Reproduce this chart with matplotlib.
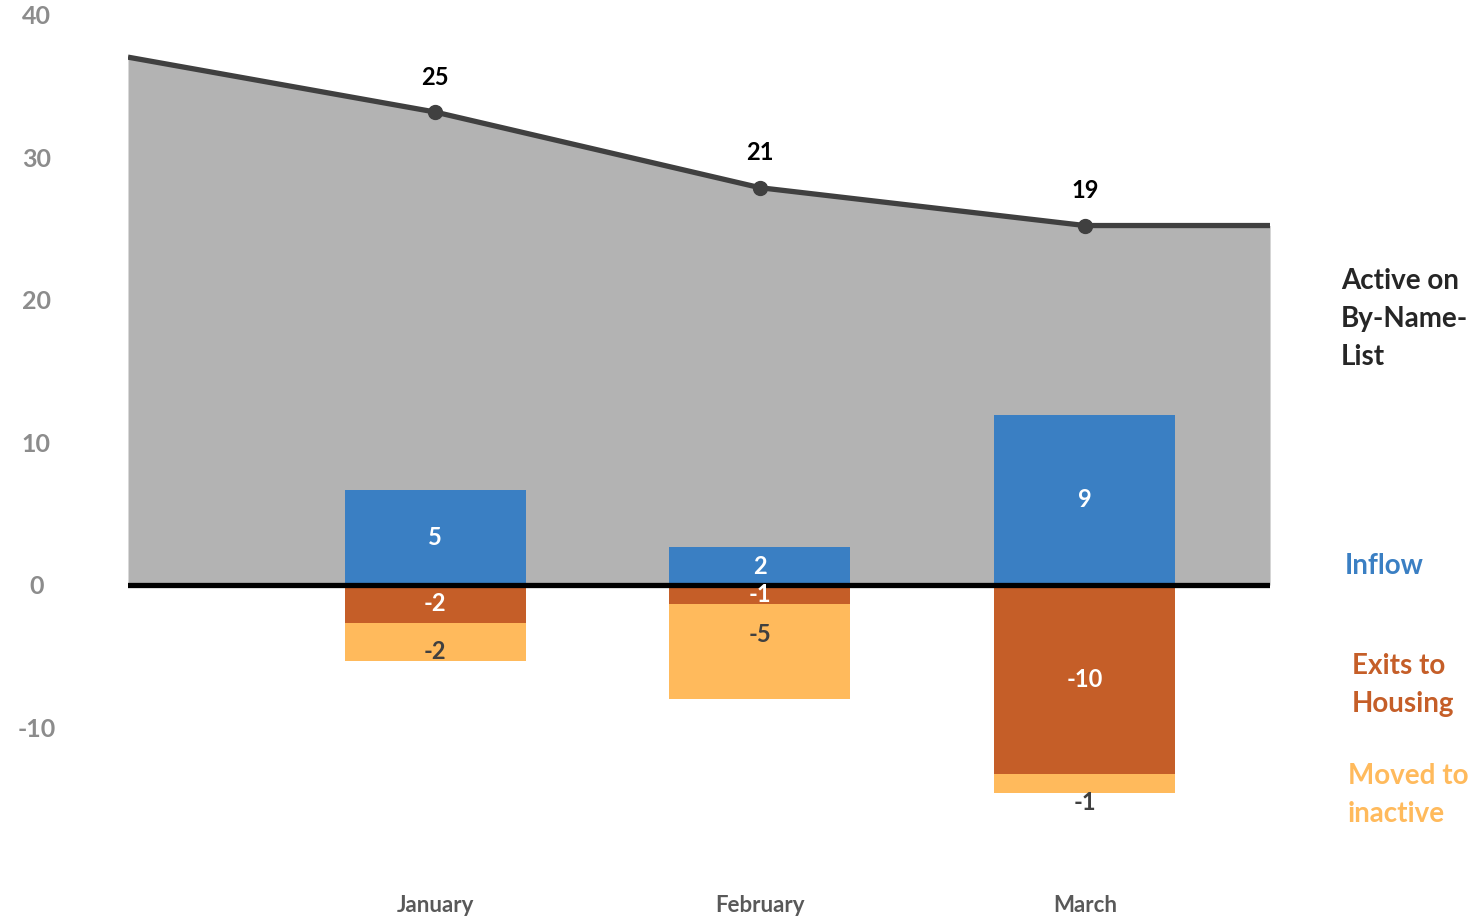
import matplotlib
matplotlib.use("Agg")
import matplotlib.pyplot as plt
import numpy as np

plt.rcParams['font.family'] = ['Lato', 'DejaVu Sans']

months = ["January", "February", "March"]
active = [25, 21, 19]
active_edge_start = 27.9   # trend value at the left edge of the plot
inflow = [5, 2, 9]
exits_housing = [-2, -1, -10]
moved_inactive = [-2, -5, -1]

left_ticks = [40, 30, 20, 10, 0, -10]

BLUE = "#3A7FC3"
ORANGE = "#C55E28"
YELLOW = "#FFBA5C"
GREY_AREA = "#B3B3B3"
LINE = "#404040"

fig = plt.figure(figsize=(14.78, 9.17), dpi=100)
ax = fig.add_axes([0.0866, 0.0513, 0.7727, 0.9324])

x_lo, x_hi = -0.945, 2.57
x = np.arange(len(months))

# grey area + line for active on list
area_x = np.concatenate(([x_lo], x, [x_hi]))
area_y = np.concatenate(([active_edge_start], active, [active[-1]]))
ax.fill_between(area_x, 0, area_y, color=GREY_AREA, lw=0, zorder=1)
ax.plot(area_x, area_y, color=LINE, lw=3.8, zorder=4, solid_capstyle='butt')
ax.plot(x, active, 'o', color=LINE, ms=10, zorder=5)
for xi, v in zip(x, active):
    ax.annotate(str(v), (xi, v), xytext=(0, 25), textcoords='offset points',
                ha='center', va='center', fontsize=17, fontweight='bold', color='black')

# stacked bars
w = 0.557
ax.bar(x, inflow, w, color=BLUE, zorder=2)
ax.bar(x, exits_housing, w, color=ORANGE, zorder=2)
ax.bar(x, moved_inactive, w, bottom=exits_housing, color=YELLOW, zorder=2)

lab = dict(ha='center', va='center', fontsize=17, fontweight='bold', zorder=6)
for xi, v in zip(x, inflow):
    ax.text(xi, v / 2, str(v), color='white', **lab)
for xi, v in zip(x, exits_housing):
    ax.text(xi, v / 2, str(v), color='white', **lab)
# Excel put these labels a bit off-centre
nudge = [-0.5, 0.9, -1.0]
for xi, b, v, n in zip(x, exits_housing, moved_inactive, nudge):
    ax.text(xi, b + v / 2 + n, str(v), color=LINE, **lab)

ax.axhline(0, color='black', lw=3.8, zorder=3)

ax.set_xlim(x_lo, x_hi)
ax.set_ylim(-15.06, 30.13)
ax.set_xticks(x)
ax.set_xticklabels(months, fontsize=16, fontweight='bold', color='#595959')
ax.tick_params(axis='x', length=0, pad=18)
ax.set_yticks([])
for s in ax.spines.values():
    s.set_visible(False)

# left value labels sit on their own scale (primary axis in the original)
ax2 = ax.twinx()
ax2.set_ylim(-20, 40)
ax2.yaxis.tick_left()
ax2.set_yticks(left_ticks)
ax2.set_yticklabels([str(t) for t in left_ticks], fontsize=18, fontweight='bold',
                    color='#8C8C8C', ha='center')
ax2.tick_params(axis='y', length=0, pad=66)
for s in ax2.spines.values():
    s.set_visible(False)

# series names on the right
side = dict(fontsize=20, fontweight='bold', va='center', ha='left', linespacing=1.55)
fig.text(1341 / 1478, 1 - 319 / 917, "Active on\nBy-Name-\nList", color='#262626', **side)
fig.text(1345 / 1478, 1 - 566 / 917, "Inflow", color=BLUE, **side)
fig.text(1352 / 1478, 1 - 685 / 917, "Exits to\nHousing", color=ORANGE, **side)
fig.text(1348 / 1478, 1 - 795 / 917, "Moved to\ninactive", color=YELLOW, **side)

fig.savefig("out.png", dpi=100, facecolor='white')
